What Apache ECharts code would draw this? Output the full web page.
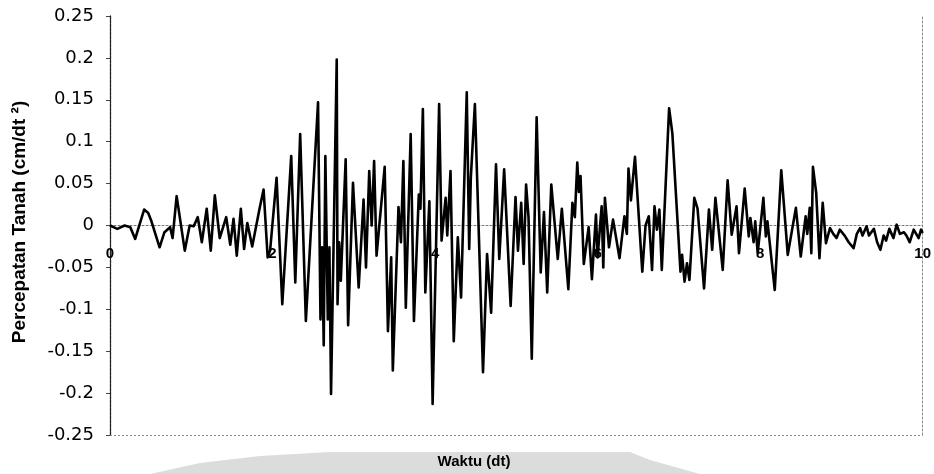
<!DOCTYPE html>
<html>
<head>
<meta charset="utf-8">
<script src="https://cdn.jsdelivr.net/npm/echarts@6/dist/echarts.min.js"></script>
<style>
html,body{margin:0;padding:0;background:#fff;}
#chart{width:934px;height:474px;}
</style>
</head>
<body>
<div id="chart"></div>
<script>
// Time (s)
const times = [
0.00,0.09,0.18,0.25,0.31,0.42,0.47,0.51,0.61,0.67,0.74,0.77,0.82,0.92,0.98,1.03,1.08,1.13,1.19,1.24,
1.29,1.35,1.43,1.48,1.52,1.56,1.61,1.65,1.69,1.75,1.84,1.89,1.94,1.97,2.05,2.12,2.23,2.28,2.34,2.41,
2.56,2.59,2.61,2.63,2.65,2.68,2.70,2.72,2.79,2.80,2.82,2.84,2.90,2.93,2.99,3.06,3.12,3.15,3.19,3.22,
3.25,3.28,3.38,3.42,3.46,3.48,3.55,3.58,3.61,3.64,3.70,3.74,3.80,3.82,3.85,3.88,3.93,3.97,4.05,4.08,
4.13,4.15,4.19,4.23,4.28,4.32,4.39,4.42,4.44,4.49,4.59,4.64,4.69,4.75,4.79,4.85,4.93,4.99,5.02,5.06,
5.09,5.12,5.15,5.19,5.25,5.30,5.34,5.38,5.43,5.51,5.56,5.64,5.69,5.72,5.75,5.77,5.79,5.83,5.89,5.93,
5.98,6.00,6.05,6.07,6.09,6.14,6.19,6.27,6.33,6.36,6.38,6.41,6.46,6.55,6.59,6.63,6.67,6.70,6.73,6.76,
6.79,6.88,6.92,7.02,7.04,7.07,7.10,7.13,7.19,7.23,7.31,7.37,7.41,7.45,7.54,7.60,7.65,7.71,7.74,7.81,
7.86,7.88,7.92,7.94,7.97,8.04,8.07,8.09,8.18,8.26,8.34,8.44,8.50,8.56,8.58,8.61,8.63,8.65,8.69,8.73,
8.77,8.81,8.86,8.90,8.94,8.98,9.04,9.09,9.15,9.19,9.23,9.26,9.31,9.34,9.40,9.44,9.48,9.52,9.55,9.59,
9.64,9.68,9.72,9.77,9.80,9.84,9.89,9.95,9.98,10.00
];
// Ground acceleration
const accel = [
0.000,-0.004,0.000,-0.002,-0.016,0.019,0.015,0.005,-0.026,-0.008,-0.002,-0.015,0.035,-0.030,0.000,-0.001,0.010,-0.020,0.020,-0.030,
0.036,-0.015,0.010,-0.023,0.008,-0.036,0.020,-0.028,0.003,-0.025,0.020,0.043,-0.038,-0.030,0.057,-0.094,0.083,-0.068,0.109,-0.114,
0.147,-0.112,-0.026,-0.143,0.083,-0.112,-0.026,-0.201,0.198,-0.094,-0.020,-0.066,0.079,-0.119,0.051,-0.074,0.031,-0.050,0.065,0.000,
0.077,-0.036,0.070,-0.126,-0.038,-0.173,0.022,-0.020,0.077,-0.098,0.109,-0.114,0.037,0.020,0.139,-0.080,0.029,-0.213,0.145,-0.018,
0.033,-0.012,0.065,-0.138,-0.014,-0.086,0.159,-0.028,0.057,0.145,-0.175,-0.034,-0.104,0.073,-0.040,0.067,-0.096,0.034,-0.030,0.027,
-0.046,0.049,0.010,-0.159,0.129,-0.056,0.016,-0.080,0.049,-0.040,0.020,-0.076,0.027,0.010,0.075,0.040,0.059,-0.046,-0.002,-0.064,
0.013,-0.038,0.023,-0.050,0.033,-0.026,0.007,-0.039,0.011,-0.010,0.068,0.030,0.082,-0.055,0.000,0.011,-0.053,0.023,-0.005,0.019,
-0.053,0.140,0.110,-0.055,-0.035,-0.067,-0.045,-0.065,0.033,0.020,-0.075,0.019,-0.029,0.033,-0.053,0.054,-0.011,0.023,-0.033,0.044,
-0.013,0.009,-0.020,0.005,-0.033,0.033,-0.013,0.005,-0.077,0.066,-0.035,0.021,-0.037,0.011,-0.010,0.021,-0.033,0.070,0.039,-0.039,
0.027,-0.021,-0.003,-0.010,-0.015,-0.005,-0.012,-0.020,-0.027,-0.010,-0.003,-0.012,-0.001,-0.012,-0.004,-0.020,-0.029,-0.012,-0.018,-0.004,
-0.015,0.001,-0.010,-0.008,-0.012,-0.020,-0.005,-0.015,-0.005,-0.009
];
const xTicks = [0, 2, 4, 6, 8, 10];
const yMin = -0.25, yMax = 0.25, yStep = 0.05;
const xTitle = 'Waktu (dt)';
const yTitle = 'Percepatan Tanah (cm/dt \u00B2)';

const seriesData = times.map((t, i) => [t, accel[i]]);

const gridTop = 16, gridBottom = 39, chartH = 474;
const plotH = chartH - gridTop - gridBottom;
// place the x axis (labels + line) on the y = 0 level
const zeroOffset = -plotH * (0 - yMin) / (yMax - yMin);

const chart = echarts.init(document.getElementById('chart'), null, {renderer: 'canvas'});
chart.setOption({
  backgroundColor: '#ffffff',
  animation: false,
  grid: {left: 110, right: 7, top: gridTop, bottom: gridBottom},
  xAxis: [{
    type: 'value', min: xTicks[0], max: xTicks[xTicks.length - 1], interval: 2,
    position: 'bottom', offset: zeroOffset,
    axisLine: {show: true, onZero: false, lineStyle: {color: '#777', width: 1, type: [2, 2]}},
    axisTick: {show: false},
    splitLine: {show: false},
    axisLabel: {margin: 21, color: '#000', fontSize: 15, fontWeight: 'bold',
      fontFamily: 'Liberation Sans, Arial, sans-serif'}
  }],
  yAxis: [{
    type: 'value', min: yMin, max: yMax, interval: yStep,
    axisLine: {show: true, onZero: false, lineStyle: {color: '#222', width: 1.3, type: [3, 1]}},
    axisTick: {show: true, length: 4, lineStyle: {color: '#444'}},
    splitLine: {show: false},
    axisLabel: {margin: 16, color: '#000', fontSize: 18,
      fontFamily: 'DejaVu Sans, sans-serif',
      formatter: v => String(Number(v.toFixed(2)))}
  }, {
    type: 'value', min: yMin, max: yMax, position: 'right',
    axisLine: {show: true, onZero: false, lineStyle: {color: '#888', width: 1, type: [2, 2]}},
    axisTick: {show: false}, axisLabel: {show: false}, splitLine: {show: false}
  }],
  graphic: [{
    type: 'polygon', silent: true, z: -1,
    shape: {points: [[150, 474], [200, 463], [260, 456], [330, 452], [630, 452], [650, 460], [700, 474]]},
    style: {fill: '#dcdcdc'}
  }, {
    type: 'text', x: 474, y: 462, z: 10,
    style: {text: xTitle, fill: '#000', align: 'center', verticalAlign: 'middle',
      font: 'bold 15px "Liberation Sans", Arial, sans-serif'}
  }, {
    type: 'text', x: 20, y: 222, rotation: Math.PI / 2, z: 10,
    style: {text: yTitle, fill: '#000', align: 'center', verticalAlign: 'middle',
      font: 'bold 19px "Liberation Sans", Arial, sans-serif'}
  }],
  series: [{
    type: 'line', xAxisIndex: 0, yAxisIndex: 0,
    data: seriesData, showSymbol: false, symbol: 'none', smooth: false,
    lineStyle: {color: '#000', width: 2.6, join: 'round'},
    z: 5,
    markLine: {
      silent: true, symbol: 'none', animation: false,
      label: {show: false},
      lineStyle: {color: '#888', width: 1, type: [2, 2]},
      data: [{yAxis: yMin}]
    }
  }]
});
</script>
</body>
</html>
